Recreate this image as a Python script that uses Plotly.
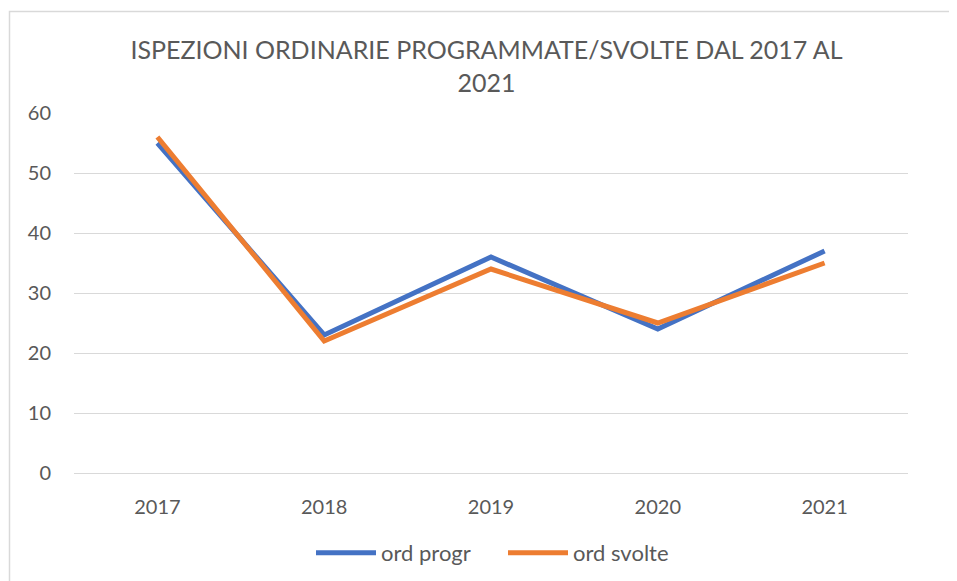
import plotly.graph_objects as go

years = ["2017", "2018", "2019", "2020", "2021"]
ord_progr = [55, 23, 36, 24, 37]
ord_svolte = [56, 22, 34, 25, 35]
y_ticks = [0, 10, 20, 30, 40, 50, 60]

W, H = 957, 581
ML, MR, MT, MB = 66, 57, 105, 116
pw, ph = W - ML - MR, H - MT - MB
bottom = H - MB

fig = go.Figure()
fig.add_trace(go.Scatter(x=years, y=ord_progr, mode="lines", name="ord progr",
                         line=dict(color="#4472C4", width=5)))
fig.add_trace(go.Scatter(x=years, y=ord_svolte, mode="lines", name="ord svolte",
                         line=dict(color="#ED7D31", width=5)))

font_family = "Lato, 'Open Sans', sans-serif"
fig.update_layout(
    width=W, height=H,
    margin=dict(l=ML, r=MR, t=MT, b=MB),
    paper_bgcolor="white", plot_bgcolor="white",
    font=dict(family=font_family, color="#595959", size=20),
    title=dict(text="ISPEZIONI ORDINARIE PROGRAMMATE/SVOLTE DAL 2017 AL<br>2021",
               x=0.5, xanchor="center", y=1 - 51 / H, yanchor="top",
               font=dict(size=25, color="#595959", family=font_family)),
    showlegend=True,
    legend=dict(orientation="h", x=0.5 + 12 / pw, xanchor="center", y=-(545 - bottom) / ph, yanchor="middle",
                font=dict(size=22, color="#595959"), itemwidth=60, tracegroupgap=0,
                entrywidth=117),
    shapes=[dict(type="rect", xref="paper", yref="paper",
                 x0=(1.5 - ML) / pw, x1=(W + 5 - ML) / pw,
                 y0=-(H + 5 - bottom) / ph, y1=(bottom - 3.5) / ph,
                 line=dict(color="#d9d9d9", width=1.5), fillcolor="rgba(0,0,0,0)", layer="below")],
)
fig.update_xaxes(type="category", range=[-0.5, 4.5], showgrid=False, showline=False,
                 ticks="", tickfont=dict(size=20, color="#595959"), ticklabelstandoff=20)
fig.update_yaxes(range=[0, 60], tickvals=y_ticks, showgrid=True, gridcolor="#d9d9d9", gridwidth=1.3,
                 zeroline=True, zerolinecolor="#d9d9d9", zerolinewidth=1.3, showline=False,
                 ticks="", tickfont=dict(size=20, color="#595959"), ticklabelstandoff=22)

fig.write_html("out.html")
